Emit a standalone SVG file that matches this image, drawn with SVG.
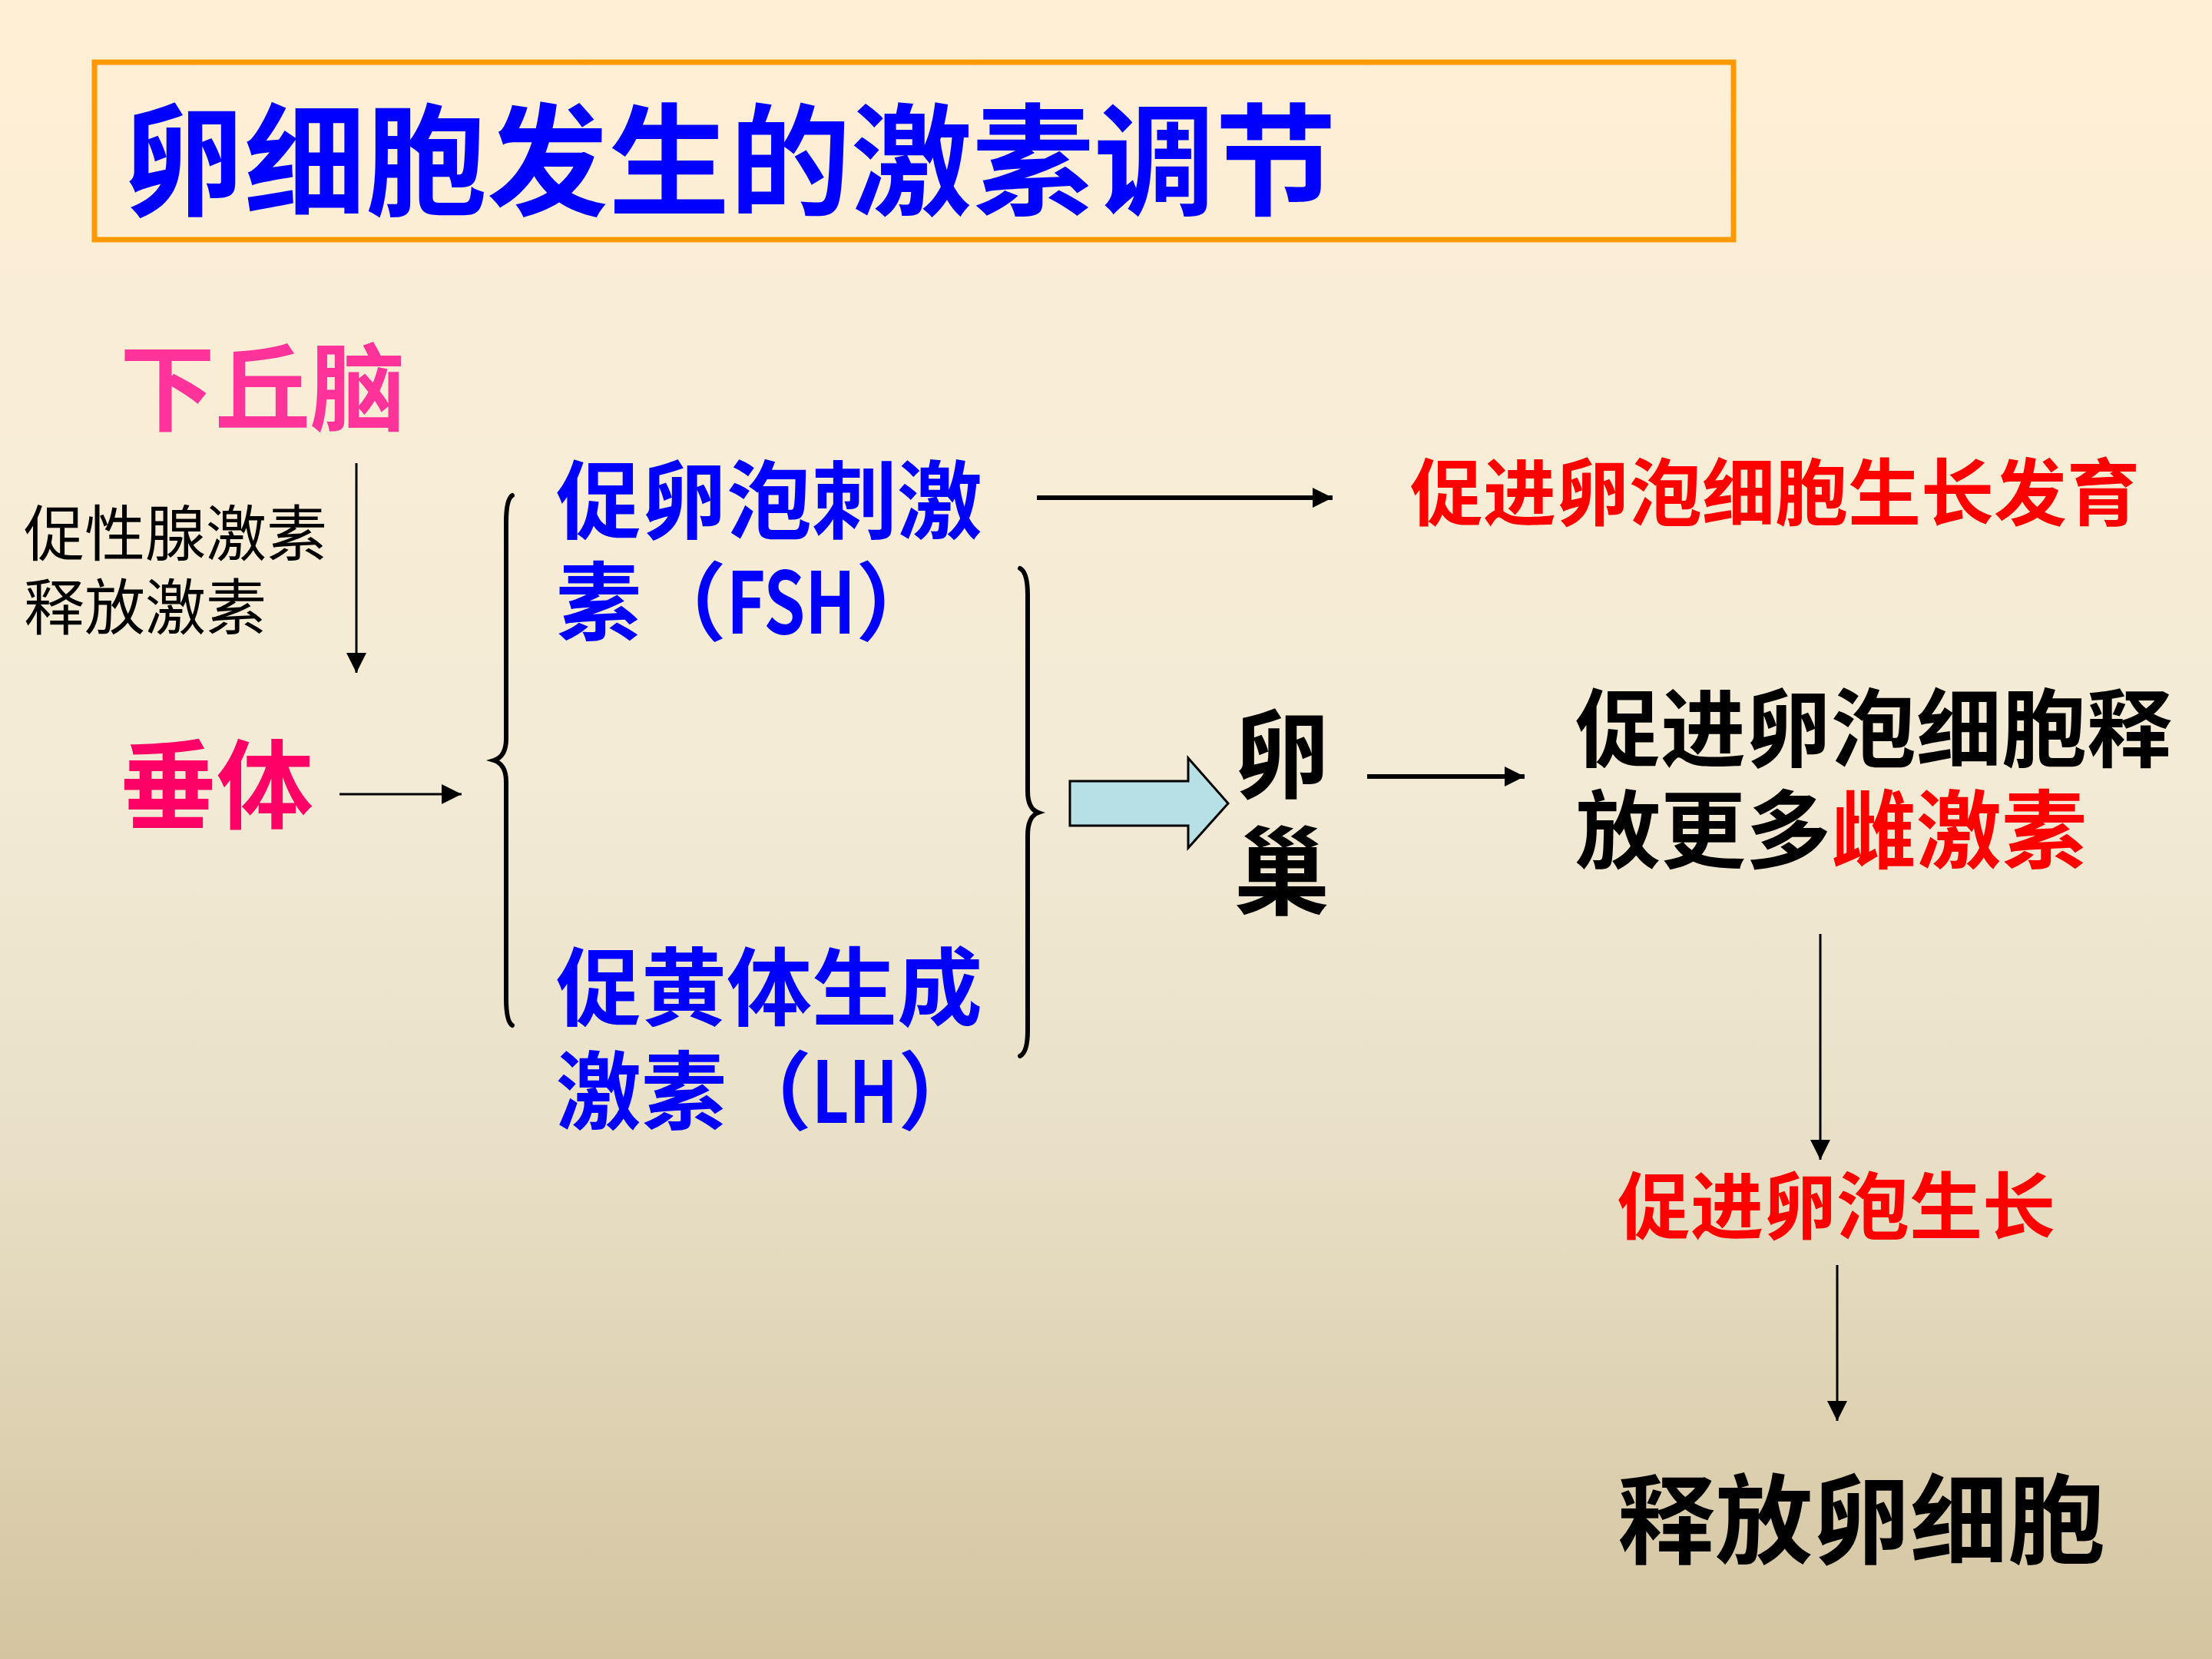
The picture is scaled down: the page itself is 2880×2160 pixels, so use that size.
<svg xmlns="http://www.w3.org/2000/svg" width="2880" height="2160" viewBox="0 0 2880 2160">
<defs>
<linearGradient id="bg" x1="0" y1="0" x2="0" y2="1">
<stop offset="0" stop-color="#FFEFD5"/>
<stop offset="0.46" stop-color="#F3EBD6"/>
<stop offset="0.7" stop-color="#E8DFC6"/>
<stop offset="1" stop-color="#D4C5A0"/>
</linearGradient>
<marker id="ah" markerUnits="userSpaceOnUse" markerWidth="28" markerHeight="26" refX="26" refY="13" orient="auto">
<path d="M0,0 L26,13 L0,26 Z" fill="#000"/>
</marker>
</defs>
<style>
text{font-family:"Noto Sans CJK SC","Noto Sans",sans-serif;}
.b{font-weight:700;}
.blue{fill:#0000FF;}
.red{fill:#FF0000;}
.blk{fill:#000;}
.thin{stroke:#000;stroke-width:3;fill:none;}
.thick{stroke:#000;stroke-width:6;fill:none;}
.brace{stroke:#000;stroke-width:6;fill:none;stroke-linecap:round;}
</style>
<rect x="0" y="0" width="2880" height="2160" fill="url(#bg)"/>

<g id="title">
<rect x="123" y="81" width="2134" height="231" fill="none" stroke="#FF9900" stroke-width="7"/>
<text x="160" y="268" font-size="158" class="b blue">卵细胞发生的激素调节</text>
</g>

<g id="hypothalamus"><text x="156" y="551" font-size="124" class="b" fill="#FF3399">下丘脑</text></g>
<g id="gnrh-label">
<text font-size="79" class="blk"><tspan x="31" y="724">促性腺激素</tspan><tspan x="31" y="820">释放激素</tspan></text>
</g>
<g id="pituitary"><text x="156" y="1069" font-size="126" class="b" fill="#FF0066">垂体</text></g>

<g id="fsh">
<text font-size="111" class="b blue"><tspan x="724" y="693">促卵泡刺激</tspan><tspan x="724" y="825">素（<tspan textLength="168" lengthAdjust="spacingAndGlyphs">FSH</tspan>）</tspan></text>
</g>
<g id="lh">
<text font-size="111" class="b blue"><tspan x="724" y="1327">促黄体生成</tspan><tspan x="724" y="1462">激素（<tspan textLength="112" lengthAdjust="spacingAndGlyphs">LH</tspan>）</tspan></text>
</g>

<g id="fsh-effect"><text x="1836" y="677" font-size="95" class="b red">促进卵泡细胞生长发育</text></g>

<g id="ovary">
<text font-size="125" class="b blk" text-anchor="middle"><tspan x="1669" y="1029">卵</tspan><tspan x="1669" y="1181">巢</tspan></text>
</g>

<g id="ovary-effect">
<text font-size="111" class="b blk"><tspan x="2051" y="990">促进卵泡细胞释</tspan><tspan x="2051" y="1122">放更多<tspan class="red">雌激素</tspan></tspan></text>
</g>

<g id="follicle-growth"><text x="2106" y="1606" font-size="95" class="b red">促进卵泡生长</text></g>
<g id="ovulation"><text x="2106" y="2026" font-size="127" class="b blk">释放卵细胞</text></g>

<g id="connectors">
<line x1="464" y1="603" x2="464" y2="876" class="thin" marker-end="url(#ah)"/>
<line x1="442" y1="1034" x2="601" y2="1034" class="thin" marker-end="url(#ah)"/>
<path d="M667 645 Q659 650 659 680 L659 962 Q659 985 643 990 Q659 995 659 1018 L659 1300 Q659 1330 667 1335" class="brace"/>
<path d="M1328 740 Q1338 745 1338 775 L1338 1030 Q1338 1053 1352 1058 Q1338 1063 1338 1088 L1338 1342 Q1338 1370 1328 1375" class="brace"/>
<line x1="1350" y1="648" x2="1735" y2="648" class="thick" marker-end="url(#ah)"/>
<polygon points="1393,1017 1547,1017 1547,987 1599,1046 1547,1104 1547,1075 1393,1075" fill="#B7E0E6" stroke="#000" stroke-width="3"/>
<line x1="1780" y1="1011" x2="1985" y2="1011" class="thick" marker-end="url(#ah)"/>
<line x1="2370" y1="1216" x2="2370" y2="1510" class="thin" marker-end="url(#ah)"/>
<line x1="2392" y1="1647" x2="2392" y2="1850" class="thin" marker-end="url(#ah)"/>
</g>
</svg>
